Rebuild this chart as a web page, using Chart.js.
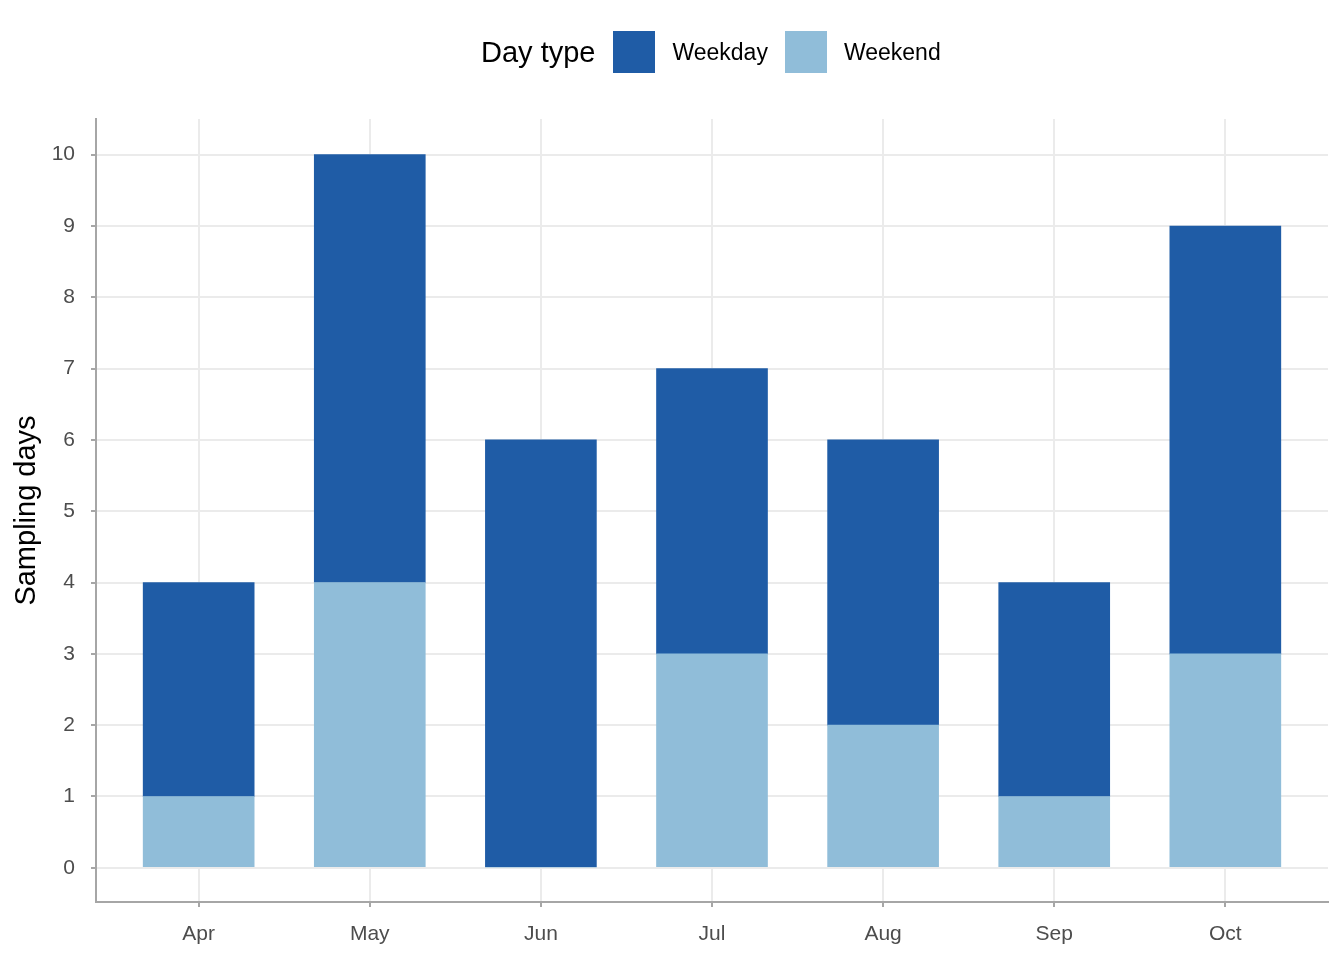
<!DOCTYPE html>
<html>
<head>
<meta charset="utf-8">
<script src="https://cdn.jsdelivr.net/npm/chart.js@4"></script>
<style>
  html,body{margin:0;padding:0;background:#fff;}
  #wrap{position:relative;width:1344px;height:960px;}
  #legend{position:absolute;top:31px;left:481px;height:42px;display:flex;align-items:center;
    font-family:"Liberation Sans",Arial,sans-serif;color:#000;}
  #legend .ttl{font-size:29px;margin-right:18px;}
  #legend .key{width:42px;height:42px;margin-right:17px;}
  #legend .lab{font-size:23px;margin-right:17px;}
</style>
</head>
<body>
<div id="wrap">
  <canvas id="c" width="1344" height="960"></canvas>
  <div id="legend"></div>
</div>
<script>
/* ===== data ===== */
const months=['Apr','May','Jun','Jul','Aug','Sep','Oct'];
const weekday=[3,6,6,4,4,3,6];
const weekend=[1,4,0,3,2,1,3];
const yTicks=[0,1,2,3,4,5,6,7,8,9,10];
const seriesNames=['Weekday','Weekend'];
const COL={Weekday:'#1f5ca6',Weekend:'#90bdd9'};
const FONT='"Liberation Sans", Arial, sans-serif';

/* ---------- legend (html) ---------- */
const lg=document.getElementById('legend');
lg.insertAdjacentHTML('beforeend','<span class="ttl">Day type</span>');
seriesNames.forEach(n=>lg.insertAdjacentHTML('beforeend',
  `<span class="key" style="background:${COL[n]}"></span><span class="lab">${n}</span>`));

/* ---------- chart ---------- */
const pts=arr=>arr.map((v,i)=>({x:i,y:v}));
const mkBar=(lbl,arr)=>({label:lbl,data:pts(arr),backgroundColor:COL[lbl],borderWidth:0,
  barThickness:111,stack:'s'});

new Chart(document.getElementById('c'),{
  type:'bar',
  data:{datasets:[mkBar('Weekend',weekend),mkBar('Weekday',weekday)]},
  options:{
    responsive:false,animation:false,
    layout:{padding:{top:119,right:16,left:0,bottom:0}},
    plugins:{legend:{display:false},tooltip:{enabled:false}},
    scales:{
      x:{type:'linear',min:-0.6,max:6.6,stacked:true,offset:false,
         afterBuildTicks:s=>{s.ticks=months.map((_,i)=>({value:i}));},
         afterFit:s=>{s.height=58;},
         ticks:{callback:v=>months[v]??'',color:'#4d4d4d',padding:15,autoSkip:false,maxRotation:0,
           font:{family:FONT,size:21}},
         grid:{offset:false,color:'#ebebeb',lineWidth:2,tickColor:'#a6a6a6',tickLength:5,drawOnChartArea:true},
         border:{display:true,color:'#a6a6a6',width:2}},
      y:{type:'linear',min:-0.48,max:10.5,stacked:true,
         afterBuildTicks:s=>{s.ticks=yTicks.map(v=>({value:v}));},
         afterFit:s=>{s.width=96;},
         title:{display:true,text:'Sampling days',color:'#000',font:{family:FONT,size:29},padding:{top:10,bottom:8}},
         ticks:{color:'#4d4d4d',padding:16,font:{family:FONT,size:21}},
         grid:{color:'#ebebeb',lineWidth:2,tickColor:'#a6a6a6',tickLength:5},
         border:{display:true,color:'#a6a6a6',width:2}}
    }
  }
});
</script>
</body>
</html>
